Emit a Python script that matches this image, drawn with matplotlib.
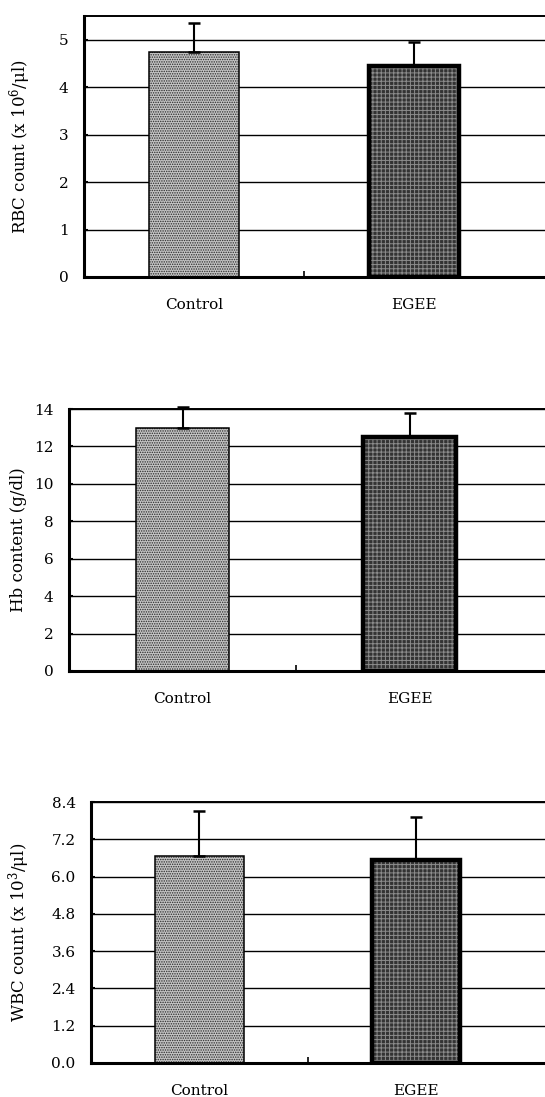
import numpy as np
import matplotlib
matplotlib.use('Agg')
import matplotlib.pyplot as plt

plt.rcParams['font.family'] = ['DejaVu Serif']
plt.rcParams['mathtext.fontset'] = 'dejavuserif'
plt.rcParams['hatch.linewidth'] = 0.7

groups = ['Control', 'EGEE']

rbc_mean = [4.75, 4.45]
rbc_err = [0.61, 0.51]
hb_mean = [13.0, 12.5]
hb_err = [1.1, 1.3]
wbc_mean = [6.66, 6.52]
wbc_err = [1.44, 1.40]

rbc_ticks = [0, 1, 2, 3, 4, 5]
hb_ticks = [0, 2, 4, 6, 8, 10, 12, 14]
wbc_ticks = [0.0, 1.2, 2.4, 3.6, 4.8, 6.0, 7.2, 8.4]

panels = [
    # (mean, err, ticks, ymax, fmt, ylabel, axes rect, label x)
    (rbc_mean, rbc_err, rbc_ticks, 5.5, '%d', 'RBC count (x 10$^6$/\u03bcl)',
     [84/545, 1-277/1097, 461/545, 261/1097], -0.11),
    (hb_mean, hb_err, hb_ticks, 14, '%d', 'Hb content (g/dl)',
     [69/545, 1-671/1097, 476/545, 262/1097], -0.088),
    (wbc_mean, wbc_err, wbc_ticks, 8.4, '%.1f', 'WBC count (x 10$^3$/\u03bcl)',
     [91/545, 1-1063/1097, 454/545, 261/1097], -0.13),
]

fig = plt.figure(figsize=(5.45, 10.97), dpi=100)
x = np.arange(len(groups))
w = 0.41

for mean, err, ticks, ymax, fmt, ylab, rect, lx in panels:
    ax = fig.add_axes(rect)
    ax.set_axisbelow(True)
    ax.grid(axis='y', color='black', linewidth=1.0)
    # control bar: light dotted fill
    ax.bar(x[0], mean[0], w, color='#c4c4c4', edgecolor='#2a2a2a',
           hatch='.......', linewidth=0, zorder=2)
    ax.bar(x[0], mean[0], w, fill=False, edgecolor='black', linewidth=1.1, zorder=3)
    # EGEE bar: dark speckled fill, heavy border
    ax.bar(x[1], mean[1], w, color='#333333', edgecolor='#8c8c8c',
           hatch='++++', linewidth=0, zorder=2)
    ax.bar(x[1], mean[1], w, fill=False, edgecolor='black', linewidth=3.2, zorder=3)
    ax.errorbar(x, mean, yerr=[[0, 0], err], fmt='none', ecolor='black',
                elinewidth=1.5, capsize=4.5, capthick=1.8, zorder=4, clip_on=False)

    ax.set_xlim(-0.5, 1.595)
    ax.set_ylim(0, ymax)
    ax.set_yticks(ticks)
    ax.set_yticklabels([fmt % t for t in ticks])
    ax.set_xticks(x)
    ax.set_xticklabels(groups)
    ax.set_xticks([0.5], minor=True)
    ax.tick_params(axis='x', which='major', length=0, pad=15, labelsize=11)
    ax.tick_params(axis='x', which='minor', direction='in', length=4, width=1.2)
    ax.tick_params(axis='y', direction='in', length=3, width=1.5, pad=11, labelsize=11)
    ax.set_ylabel(ylab, fontsize=12)
    ax.yaxis.set_label_coords(lx, 0.5)

    ax.spines['right'].set_visible(False)
    ax.spines['left'].set_linewidth(2.2)
    ax.spines['bottom'].set_linewidth(2.2)
    ax.spines['top'].set_linewidth(1.4)

plt.savefig('out.png', dpi=100)
